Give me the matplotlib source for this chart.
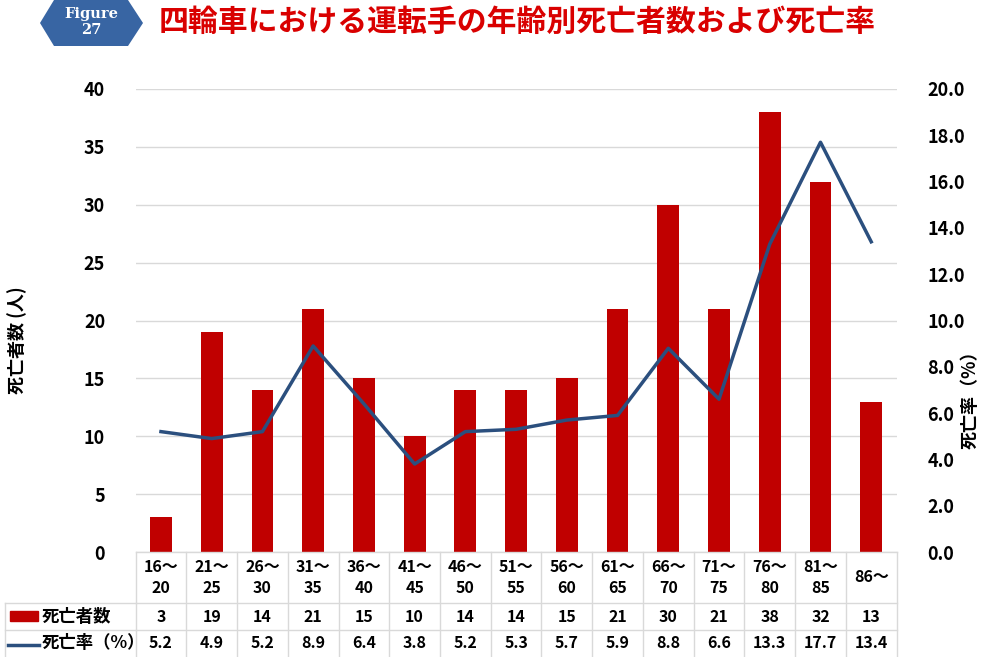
import matplotlib.pyplot as plt
import numpy as np
from matplotlib.patches import Polygon, Rectangle
from matplotlib.lines import Line2D
import matplotlib.transforms as mtransforms

plt.rcParams['font.family'] = ['Noto Sans CJK JP', 'DejaVu Sans']

age_groups = ["16～\n20", "21～\n25", "26～\n30", "31～\n35", "36～\n40", "41～\n45",
              "46～\n50", "51～\n55", "56～\n60", "61～\n65", "66～\n70", "71～\n75",
              "76～\n80", "81～\n85", "86～"]
deaths = [3, 19, 14, 21, 15, 10, 14, 14, 15, 21, 30, 21, 38, 32, 13]
death_rate = [5.2, 4.9, 5.2, 8.9, 6.4, 3.8, 5.2, 5.3, 5.7, 5.9, 8.8, 6.6, 13.3, 17.7, 13.4]

RED = "#C00000"
BLUE = "#2B4F7E"
GRID = "#D9D9D9"

W, H = 981, 657
fig = plt.figure(figsize=(W / 100, H / 100), dpi=100)


def fx(px):
    return px / W


def fy(py):
    return 1 - py / H


ax = fig.add_axes([fx(135.6), fy(552), fx(896.6) - fx(135.6), fy(89) - fy(552)])
x = np.arange(len(deaths))
ax.bar(x, deaths, width=0.43, color=RED, zorder=3)
ax.set_xlim(-0.5, len(deaths) - 0.5)
ax.set_ylim(0, 40)
ax.set_yticks(range(0, 41, 5))
ax.yaxis.grid(True, color=GRID, lw=1, zorder=0)
ax.set_xticks([])
for s in ax.spines.values():
    s.set_visible(False)
ax.tick_params(axis="y", length=0, pad=22, labelsize=13)
for t in ax.get_yticklabels():
    t.set_fontweight("bold")

ax2 = ax.twinx()
ax2.plot(x, death_rate, color=BLUE, lw=2.5, zorder=4)
ax2.set_ylim(0, 20)
ax2.set_yticks(np.arange(0, 20.1, 2))
ax2.set_yticklabels([f"{v:.1f}" for v in np.arange(0, 20.1, 2)])
for s in ax2.spines.values():
    s.set_visible(False)
ax2.tick_params(axis="y", length=0, pad=22, labelsize=13)
for t in ax2.get_yticklabels():
    t.set_fontweight("bold")

# data table under the plot
trans = mtransforms.blended_transform_factory(ax.transData, fig.transFigure)
rows_y = [fy(552), fy(603), fy(630), fy(657)]
x_left = -0.5
x_right = len(deaths) - 0.5
line_kw = dict(color=GRID, lw=1, zorder=1)
fig.add_artist(Line2D([x_left, x_right], [rows_y[0]] * 2, transform=trans, **line_kw))
for yy in rows_y[1:3]:
    fig.add_artist(Line2D([fx(5), fx(135.6)], [yy, yy], transform=fig.transFigure, **line_kw))
    fig.add_artist(Line2D([x_left, x_right], [yy, yy], transform=trans, **line_kw))
for i in range(len(deaths) + 1):
    xx = i - 0.5
    fig.add_artist(Line2D([xx, xx], [rows_y[0], rows_y[3]], transform=trans, **line_kw))
fig.add_artist(Line2D([fx(5), fx(5)], [rows_y[1], rows_y[3]], transform=fig.transFigure, **line_kw))

for i in range(len(deaths)):
    fig.text(i, (rows_y[0] + rows_y[1]) / 2, age_groups[i], transform=trans, ha="center",
             va="center", fontsize=11.5, fontweight="bold", linespacing=1.45)
    fig.text(i, (rows_y[1] + rows_y[2]) / 2, str(deaths[i]), transform=trans, ha="center",
             va="center", fontsize=11.5, fontweight="bold")
    fig.text(i, (rows_y[2] + rows_y[3]) / 2, f"{death_rate[i]:.1f}", transform=trans,
             ha="center", va="center", fontsize=11.5, fontweight="bold")

# legend keys in the table
fig.add_artist(Rectangle((fx(10), fy(621)), fx(28), fy(611) - fy(621),
                         transform=fig.transFigure, color=RED))
fig.text(fx(42), (rows_y[1] + rows_y[2]) / 2, "死亡者数", ha="left", va="center",
         fontsize=12.5, fontweight="bold")
fig.add_artist(Line2D([fx(8), fx(39)], [fy(645)] * 2, transform=fig.transFigure,
                      color=BLUE, lw=2.5))
fig.text(fx(42), (rows_y[2] + rows_y[3]) / 2, "死亡率（%）", ha="left", va="center",
         fontsize=12.5, fontweight="bold")

# axis titles
fig.text(fx(17), fy(340), "死亡者数 (人)", rotation=90, ha="center", va="center",
         fontsize=13, fontweight="bold")
fig.text(fx(970), fy(395), "死亡率（%）", rotation=90, ha="center", va="center",
         fontsize=13, fontweight="bold")

# title and figure badge
fig.text(fx(517), fy(22), "四輪車における運転手の年齢別死亡者数および死亡率", ha="center",
         va="center", fontsize=21.5, color="#D90000", fontweight="bold")
hexagon = Polygon([(fx(40), fy(23)), (fx(54), fy(0)), (fx(128), fy(0)), (fx(143), fy(23)),
                   (fx(128), fy(46)), (fx(54), fy(46))], closed=True,
                  transform=fig.transFigure, facecolor="#3865A3", edgecolor="none")
fig.add_artist(hexagon)
fig.text(fx(91), fy(22), "Figure\n27", ha="center", va="center", color="white",
         fontsize=10.5, fontweight="bold", family="DejaVu Serif", linespacing=1.1)

fig.savefig("out.png", dpi=100)
